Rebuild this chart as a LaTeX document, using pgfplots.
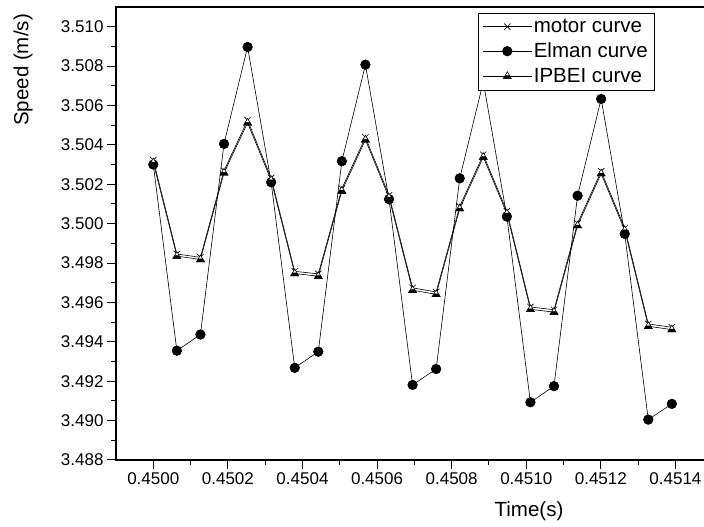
\documentclass[border=0pt]{standalone}
\usepackage{fontspec}
\setmainfont{Liberation Sans}
\usepackage{pgfplots}
\pgfplotsset{compat=1.18}
\pgfdeclareplotmark{htri}{%
  \pgfpathmoveto{\pgfqpoint{0pt}{\pgfplotmarksize}}%
  \pgfpathlineto{\pgfqpoint{-0.866\pgfplotmarksize}{-0.5\pgfplotmarksize}}%
  \pgfpathlineto{\pgfqpoint{0.866\pgfplotmarksize}{-0.5\pgfplotmarksize}}%
  \pgfpathclose
  \pgfsetfillcolor{white}\pgfusepath{fill,stroke}%
  \pgfpathmoveto{\pgfqpoint{-0.866\pgfplotmarksize}{-0.5\pgfplotmarksize}}%
  \pgfpathlineto{\pgfqpoint{0.866\pgfplotmarksize}{-0.5\pgfplotmarksize}}%
  \pgfpathlineto{\pgfqpoint{0.37\pgfplotmarksize}{0.1\pgfplotmarksize}}%
  \pgfpathlineto{\pgfqpoint{-0.37\pgfplotmarksize}{0.1\pgfplotmarksize}}%
  \pgfpathclose
  \pgfsetfillcolor{black}\pgfusepath{fill,stroke}%
}
\pgfplotstableread{
t Motor Elman IPBEI
0.4500000 3.50323 3.50300 3.50310
0.4500632 3.49846 3.49355 3.49835
0.4501264 3.49829 3.49437 3.49818
0.4501896 3.50269 3.50405 3.50258
0.4502528 3.50525 3.50897 3.50512
0.4503160 3.50232 3.50210 3.50220
0.4503792 3.49758 3.49268 3.49747
0.4504424 3.49745 3.49350 3.49733
0.4505056 3.50178 3.50317 3.50166
0.4505688 3.50438 3.50807 3.50426
0.4506320 3.50144 3.50124 3.50132
0.4506952 3.49674 3.49181 3.49662
0.4507584 3.49653 3.49262 3.49641
0.4508216 3.50088 3.50230 3.50076
0.4508848 3.50350 3.50720 3.50338
0.4509480 3.50063 3.50036 3.50051
0.4510112 3.49577 3.49093 3.49565
0.4510744 3.49563 3.49175 3.49551
0.4511376 3.50002 3.50142 3.49990
0.4512008 3.50266 3.50633 3.50254
0.4512640 3.49978 3.49948 3.49966
0.4513272 3.49491 3.49005 3.49479
0.4513904 3.49474 3.49085 3.49462
}\data
\begin{document}
\begin{tikzpicture}
\useasboundingbox (-116pt,-67pt) rectangle (588pt,460pt);
\begin{axis}[
  at={(0,0)}, anchor=south west,
  scale only axis, width=593pt, height=453pt,
  xmin=0.4499, xmax=0.45149, ymin=3.488, ymax=3.511,
  scaled x ticks=false, scaled y ticks=false,
  xtick={0.4500,0.4502,0.4504,0.4506,0.4508,0.4510,0.4512,0.4514},
  xticklabels={0.4500,0.4502,0.4504,0.4506,0.4508,0.4510,0.4512,0.4514},
  ytick={3.488,3.490,3.492,3.494,3.496,3.498,3.500,3.502,3.504,3.506,3.508,3.510},
  yticklabels={3.488,3.490,3.492,3.494,3.496,3.498,3.500,3.502,3.504,3.506,3.508,3.510},
  minor x tick num=1, minor y tick num=1,
  tick align=outside, xtick pos=left, ytick pos=left,
  major tick length=9pt, minor tick length=5pt,
  every tick/.style={black, line width=1pt},
  axis line style={line width=1.3pt},
  tick label style={font=\fontsize{17}{20}\selectfont},
  xlabel={Time(s)}, ylabel={Speed (m/s)},
  label style={font=\fontsize{20.5}{24}\selectfont},
  xlabel style={at={(axis description cs:0.6965,-0.1258)}, anchor=base},
  ylabel style={at={(axis description cs:-0.1568,0.861)}, anchor=center, rotate=0},
  legend style={at={(axis description cs:0.909,0.9868)}, anchor=north east,
    font=\fontsize{20.5}{24}\selectfont, draw=black, line width=0.6pt,
    row sep=5pt, inner xsep=5pt, inner ysep=4pt},
  legend cell align=left,
  legend image code/.code={\draw[mark repeat=2,mark phase=2,#1] plot coordinates {(0cm,0cm) (0.85cm,0cm) (1.7cm,0cm)};},
]
\addplot[black, line width=0.6pt, mark=x, mark size=4.5pt] table[x=t,y=Motor]{\data};
\addlegendentry{motor curve}
\addplot[black, line width=0.6pt, mark=*, mark size=4.8pt] table[x=t,y=Elman]{\data};
\addlegendentry{Elman curve}
\addplot[black, line width=0.6pt, mark=htri, mark size=4.5pt, mark options={line width=0.6pt}] table[x=t,y=IPBEI]{\data};
\addlegendentry{IPBEI curve}
\end{axis}
\end{tikzpicture}
\end{document}
